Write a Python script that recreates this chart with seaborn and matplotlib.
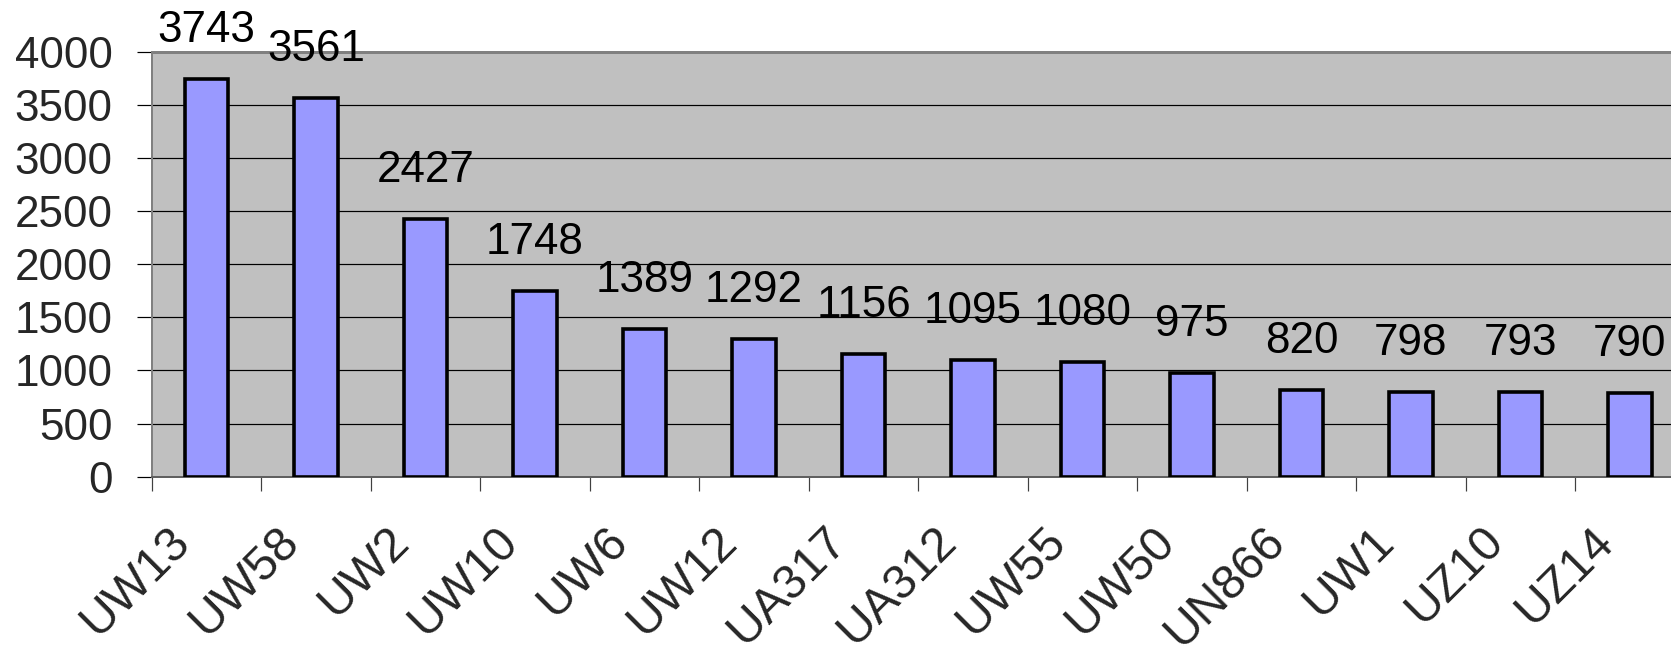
import numpy as np
import pandas as pd
import matplotlib
matplotlib.use("Agg")
import matplotlib.pyplot as plt
import matplotlib.transforms as mtransforms
import seaborn as sns

sites = ["UW13", "UW58", "UW2", "UW10", "UW6", "UW12", "UA317",
         "UA312", "UW55", "UW50", "UN866", "UW1", "UZ10", "UZ14"]
counts = [3743, 3561, 2427, 1748, 1389, 1292, 1156,
          1095, 1080, 975, 820, 798, 793, 790]
yticks = [0, 500, 1000, 1500, 2000, 2500, 3000, 3500, 4000]

df = pd.DataFrame({"site": sites, "count": counts})

sns.set_style("white")
plt.rcParams["font.family"] = ["Liberation Sans", "DejaVu Sans"]

DPI = 100
PX = 72 / DPI  # points per pixel
FS = 44 * PX

fig = plt.figure(figsize=(16.71, 6.48), dpi=DPI)
# plot area runs past the right edge of the picture, as in the original
ax = fig.add_axes([0.0908, 0.2643, 0.9174, 0.6562])
ax.set_facecolor("#C0C0C0")

sns.barplot(data=df, x="site", y="count", color="#9999FF", saturation=1,
            width=0.4, edgecolor="black", linewidth=3.6 * PX, ax=ax, zorder=3)

ax.set_xlim(-0.5, len(sites) - 0.5)
ax.set_ylim(0, 4000)
ax.set_yticks(yticks)
ax.set_yticklabels([str(t) for t in yticks], fontsize=FS)
ax.yaxis.grid(True, color="black", linewidth=1.2 * PX)
ax.xaxis.grid(False)
ax.set_axisbelow(True)
ax.set_xlabel("")
ax.set_ylabel("")

# value labels above bars
for i, v in enumerate(counts):
    ax.annotate(str(v), xy=(i, v), xytext=(0, 37 * PX), textcoords="offset points",
                ha="center", va="baseline", fontsize=FS, color="black",
                annotation_clip=False)

# ticks at category borders, labels at centres
ax.set_xticks(range(len(sites)))
ax.set_xticklabels(sites, rotation=45, ha="right", va="top", fontsize=48 * PX)
ax.set_xticks(np.arange(-0.5, len(sites), 1), minor=True)
ax.tick_params(axis="x", which="major", length=0, pad=42 * PX)
ax.tick_params(axis="x", which="minor", length=14 * PX, width=1.2 * PX,
               color="#404040", bottom=True)
ax.tick_params(axis="y", which="major", length=15 * PX, width=1.2 * PX,
               color="black", pad=24 * PX, left=True)

shift = mtransforms.ScaledTranslation(-8 / DPI, 0, fig.dpi_scale_trans)
for lab in ax.get_xticklabels():
    lab.set_transform(lab.get_transform() + shift)

for side in ["top", "bottom", "left", "right"]:
    ax.spines[side].set_visible(True)
ax.spines["top"].set_color("#808080")
ax.spines["top"].set_linewidth(3 * PX)
ax.spines["left"].set_color("#808080")
ax.spines["left"].set_linewidth(2 * PX)
ax.spines["bottom"].set_color("#606060")
ax.spines["bottom"].set_linewidth(2 * PX)

fig.savefig("out.png", dpi=DPI)
